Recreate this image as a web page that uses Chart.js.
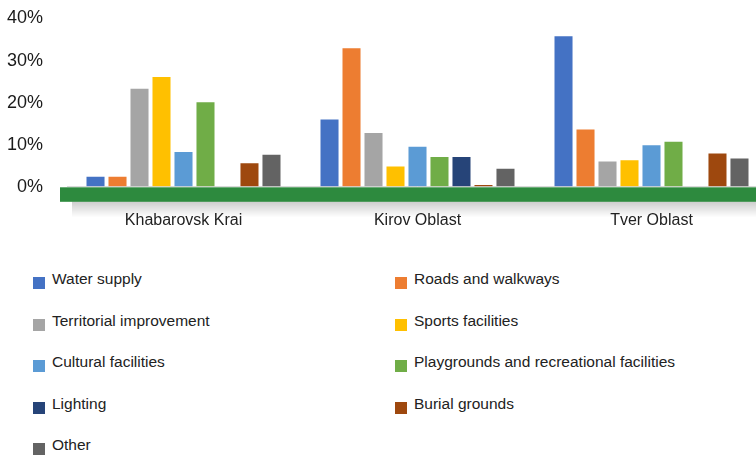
<!DOCTYPE html>
<html>
<head>
<meta charset="utf-8">
<script src="https://cdn.jsdelivr.net/npm/chart.js@4.4.1/dist/chart.umd.min.js"></script>
<style>
  html, body { margin: 0; padding: 0; background: #fff; width: 756px; height: 456px; overflow: hidden; }
  #chart-wrap { position: absolute; left: 0; top: 0; width: 770px; height: 254px; }
  #legend { position: absolute; left: 0; top: 270px; width: 756px; margin: 0; padding: 0; list-style: none;
    font-family: 'Liberation Sans', Arial, sans-serif; font-size: 15.5px; color: #222; }
  #legend li { position: absolute; height: 18px; line-height: 18px; white-space: nowrap; padding-left: 19px; }
  #legend li .box { position: absolute; left: 0; top: 7px; width: 12px; height: 12px; }
</style>
</head>
<body>
<div id="chart-wrap"><canvas id="chart"></canvas></div>
<ul id="legend"></ul>
<script>
// regions on the x axis
const regions = ['Khabarovsk Krai', 'Kirov Oblast', 'Tver Oblast'];
const yTicks = [0, 10, 20, 30, 40];

// share of projects, % (Khabarovsk, Kirov, Tver)
const waterSupply = [2.4, 16.0, 35.8];
const roadsWalkways = [2.4, 32.9, 13.6];
const territorialImprovement = [23.3, 12.8, 6.0];
const sportsFacilities = [26.1, 4.8, 6.3];
const culturalFacilities = [8.3, 9.5, 9.9];
const playgrounds = [20.1, 7.1, 10.7];
const lighting = [0, 7.1, 0];
const burialGrounds = [5.6, 0.4, 7.9];
const other = [7.6, 4.3, 6.7];

const seriesNames = [
  'Water supply', 'Roads and walkways', 'Territorial improvement', 'Sports facilities',
  'Cultural facilities', 'Playgrounds and recreational facilities', 'Lighting', 'Burial grounds', 'Other'
];
const seriesValues = [
  waterSupply, roadsWalkways, territorialImprovement, sportsFacilities,
  culturalFacilities, playgrounds, lighting, burialGrounds, other
];
const seriesColors = ['#4472c4', '#ed7d31', '#a5a5a5', '#ffc000', '#5b9bd5', '#70ad47', '#264478', '#9e480e', '#636363'];

// green strip under the zero line, with a soft shadow
const groundBand = {
  id: 'groundBand',
  beforeDatasetsDraw(chart) {
    const { ctx, chartArea, scales } = chart;
    const y0 = scales.y.getPixelForValue(0) + 0.5;
    const left = chartArea.left - 6.5;
    const shadow = ctx.createLinearGradient(0, y0 + 14, 0, y0 + 30);
    shadow.addColorStop(0, 'rgba(0,0,0,0.2)');
    shadow.addColorStop(1, 'rgba(0,0,0,0)');
    ctx.save();
    ctx.fillStyle = shadow;
    ctx.fillRect(left + 12, y0 + 14, chart.width, 16);
    ctx.fillStyle = '#2d8a3e';
    ctx.fillRect(left, y0, chart.width - left, 14.5);
    ctx.restore();
  }
};

// two-column legend in html
const htmlLegend = {
  id: 'htmlLegend',
  afterUpdate(chart) {
    const list = document.getElementById('legend');
    list.innerHTML = '';
    const items = chart.options.plugins.legend.labels.generateLabels(chart);
    items.forEach((item, i) => {
      const li = document.createElement('li');
      li.style.left = (i % 2 ? 395 : 33) + 'px';
      li.style.top = (Math.floor(i / 2) * 41.5) + 'px';
      const box = document.createElement('span');
      box.className = 'box';
      box.style.background = item.fillStyle;
      li.appendChild(box);
      li.appendChild(document.createTextNode(item.text));
      list.appendChild(li);
    });
  }
};

const ctx = document.getElementById('chart').getContext('2d');
new Chart(ctx, {
  type: 'bar',
  data: {
    labels: regions,
    datasets: seriesNames.map((name, i) => ({
      label: name,
      data: seriesValues[i],
      backgroundColor: seriesColors[i],
      borderWidth: 0,
      categoryPercentage: 0.846,
      barPercentage: 0.82
    }))
  },
  options: {
    responsive: true,
    maintainAspectRatio: false,
    animation: false,
    layout: { padding: { top: 18.5, left: 6.5, right: 1.5, bottom: 0 } },
    plugins: {
      legend: { display: false },
      tooltip: { enabled: false }
    },
    scales: {
      x: {
        grid: { display: false, drawTicks: false },
        border: { display: false },
        ticks: {
          color: '#222',
          padding: 24,
          maxRotation: 0,
          font: { family: "'Liberation Sans', Arial, sans-serif", size: 16 }
        }
      },
      y: {
        min: 0,
        max: 40,
        afterFit(scale) {
          scale.width = 60;
          // tick padding is only wanted sideways
          scale.paddingTop = 0;
          scale.paddingBottom = 0;
        },
        afterBuildTicks(scale) { scale.ticks = yTicks.map(v => ({ value: v })); },
        grid: {
          drawTicks: false,
          color: c => (c.tick && c.tick.value === 0 ? '#d9d9d9' : 'rgba(0,0,0,0)')
        },
        border: { display: false },
        ticks: {
          color: '#1a1a1a',
          padding: 23.5,
          font: { family: "'Liberation Sans', Arial, sans-serif", size: 18 },
          callback: v => v + '%'
        }
      }
    }
  },
  plugins: [groundBand, htmlLegend]
});
</script>
</body>
</html>
